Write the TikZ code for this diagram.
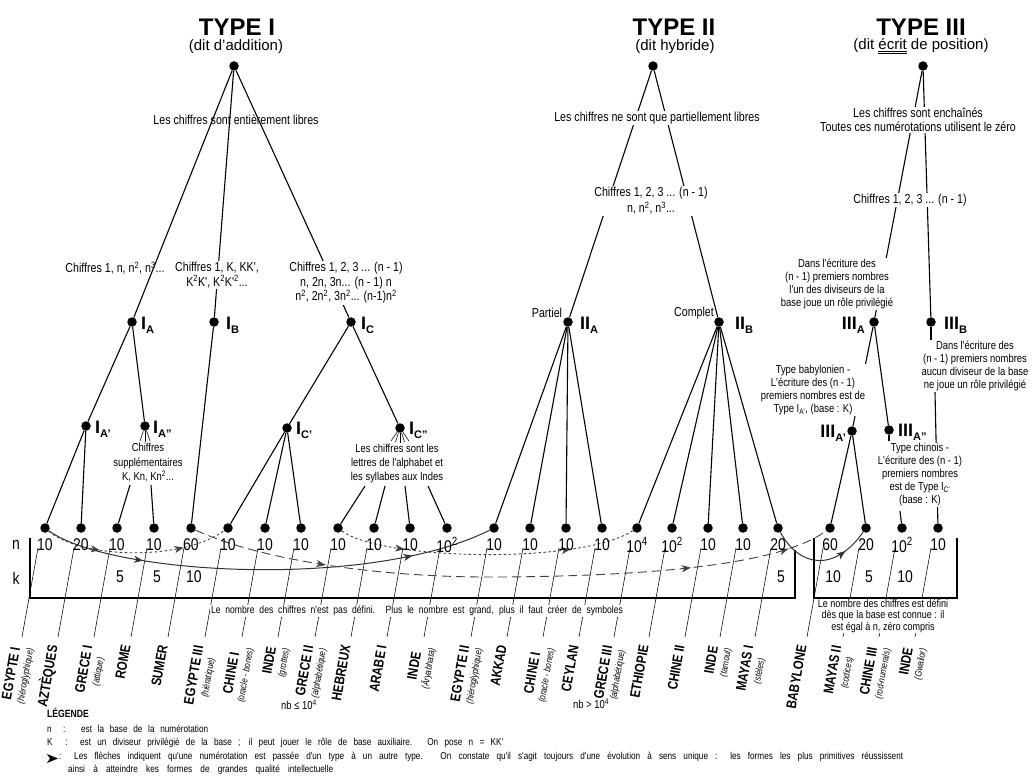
\documentclass[tikz,border=0pt]{standalone}
\usepackage{fontspec}
\setmainfont{Liberation Sans}
\newfontfamily\nar[FakeStretch=0.82]{Liberation Sans}
\usetikzlibrary{arrows.meta,decorations.markings}
\newcommand\fs[1]{\fontsize{#1}{#1}\selectfont}
\newcommand\nlab[2]{{\bfseries\fs{18}#1\raisebox{-4pt}{\fs{11}#2}}}
\newcommand\dul[1]{\leavevmode\vtop{\hbox{#1}\kern0.8pt\hrule height 0.6pt\kern1.2pt\hrule height 0.6pt}}
\tikzset{
 ar/.tip={Stealth[length=9pt,width=7pt,inset=2.5pt]},
 dot/.style={circle,fill=black,inner sep=0pt,minimum size=9.5pt},
 tl/.style={line width=1.1pt},
 thinl/.style={line width=0.55pt},
 tx/.style={font=\nar\fontsize{13}{14.5}\selectfont,align=center,inner sep=1pt},
 txw/.style={tx,fill=white},
 sm/.style={font=\nar\fontsize{11.5}{13}\selectfont,align=center,inner sep=1pt,fill=white},
 num/.style={font=\nar\fs{17},inner sep=0pt},
 blab/.style={font=\nar\bfseries\fontsize{14}{13}\selectfont,align=center,rotate=80,anchor=east,inner sep=0pt},
 mktwo/.style 2 args={postaction={decorate,decoration={markings,mark=at position #1 with {\arrow{ar}},mark=at position #2 with {\arrow{ar}}}}},
 mkone/.style={postaction={decorate,decoration={markings,mark=at position #1 with {\arrow{ar}}}}},
 sdash/.style={draw=black!75,line width=0.9pt,dash pattern=on 2.5pt off 2.5pt},
 ldash/.style={draw=black!75,line width=0.9pt,dash pattern=on 9pt off 5pt},
 solc/.style={draw=black!80,line width=1pt},
 legt/.style={font=\nar\fs{10},inner sep=0pt,anchor=base west},
}
\begin{document}
\begin{tikzpicture}[x=1pt,y=-1pt]
\path[use as bounding box,fill=white] (0,0) rectangle (1034,778);

% ---------- headings
\node[font=\bfseries\fs{24}] (h1) at (237,27) {TYPE I};
\node[font=\fs{15}] (s1) at (236,47) {(dit d'addition)};
\node[font=\bfseries\fs{24}] (h2) at (674,27) {TYPE II};
\node[font=\fs{15}] (s2) at (675,47) {(dit hybride)};
\node[font=\bfseries\fs{24}] (h3) at (921,27) {TYPE III};
\node[font=\fs{15}] (s3) at (921,46) {(dit \dul{écrit} de position)};

% ---------- leaves
\foreach \i/\x in {0/45,1/81,2/117,3/154,4/191,5/228,6/265,7/301,8/338,9/374,10/410,11/447,12/494,13/530,14/566,15/602,16/637,17/672,18/708,19/743,20/778,21/830,22/866,23/902,24/938}{
  \node[dot] (L\i) at (\x,528) {};
  \coordinate (sa\i) at (\x-7,548);
  \coordinate (sb\i) at (\x-23,637);
  \draw[thinl] (sa\i) -- (sb\i);
}

% ---------- tree dots
\node[dot] (R1) at (234,66) {};
\node[dot] (IA) at (132,322) {};
\node[dot] (IB) at (214,322) {};
\node[dot] (IC) at (351,322) {};
\node[dot] (IAp) at (86,426) {};
\node[dot] (IApp) at (145,426) {};
\node[dot] (ICp) at (287,428) {};
\node[dot] (ICpp) at (400,428) {};
\node[dot] (R2) at (653,66) {};
\node[dot] (IIA) at (568,322) {};
\node[dot] (IIB) at (719,322) {};
\node[dot] (R3) at (923,66) {};
\node[dot] (IIIA) at (874,322) {};
\node[dot] (IIIB) at (931,322) {};
\node[dot] (IIIAp) at (852,431) {};
\node[dot] (IIIApp) at (889,430) {};

% ---------- tree lines
\draw[tl] (R1) -- (IA);
\draw[tl] (R1) -- (IB);
\draw[tl] (R1) -- (IC);
\draw[tl] (IA) -- (IAp);
\draw[tl] (IA) -- (IApp);
\draw[tl] (IAp) -- (L0);
\draw[tl] (IAp) -- (L1);
\draw[tl] (IB) -- (L4);
\draw[tl] (IC) -- (ICp);
\draw[tl] (IC) -- (ICpp);
\foreach \j in {5,6,7}{\draw[tl] (ICp) -- (L\j);}
\coordinate (fa1) at (140,441); \coordinate (fa2) at (145,442); \coordinate (fa3) at (150,441);
\foreach \j in {1,2,3}{\draw[thinl] (IApp) -- (fa\j);}
\coordinate (fc1) at (391,441); \coordinate (fc2) at (395.5,442); \coordinate (fc3) at (400,443);
\coordinate (fc4) at (404.5,442); \coordinate (fc5) at (409,441);
\foreach \j in {1,...,5}{\draw[thinl] (ICpp) -- (fc\j);}
\coordinate (c1) at (130,485); \coordinate (c2) at (151,485);
\draw[tl] (c1) -- (L2);
\draw[tl] (c2) -- (L3);
\coordinate (c3) at (365,486); \coordinate (c4) at (385,486);
\coordinate (c5) at (405,486); \coordinate (c6) at (428,486);
\draw[tl] (c3) -- (L8);
\draw[tl] (c4) -- (L9);
\draw[tl] (c5) -- (L10);
\draw[tl] (c6) -- (L11);

\draw[tl] (R2) -- (IIA);
\draw[tl] (R2) -- (IIB);
\foreach \j in {12,13,14,15}{\draw[tl] (IIA) -- (L\j);}
\foreach \j in {16,17,18,19,20}{\draw[tl] (IIB) -- (L\j);}

\draw[tl] (R3) -- (IIIA);
\draw[tl] (R3) -- (IIIB);
\draw[tl] (IIIA) -- (IIIAp);
\draw[tl] (IIIA) -- (IIIApp);
\draw[tl] (IIIAp) -- (L21);
\draw[tl] (IIIAp) -- (L22);
\coordinate (c7) at (889,441); \coordinate (c8) at (900,511);
\draw[tl] (IIIApp) -- (c7);
\draw[tl] (c8) -- (L23);
\coordinate (c9) at (931,341); \coordinate (c10) at (935,392);
\draw[tl] (IIIB) -- (c9);
\draw[tl] (c10) -- (L24);

% ---------- table frame
\coordinate (f1) at (30,538); \coordinate (f2) at (30,598);
\coordinate (f3) at (795,598); \coordinate (f4) at (795,550);
\draw[tl] (f1) -- (f2) -- (f3) -- (f4);
\coordinate (g1) at (814,538); \coordinate (g2) at (814,598);
\coordinate (g3) at (957,598); \coordinate (g4) at (957,538);
\draw[tl] (g1) -- (g2) -- (g3) -- (g4);

% ---------- evolution arrows
\draw[solc,mktwo={0.22}{0.82}] (L0) .. controls (110,575) and (370,590) .. (L12);
\draw[sdash,mktwo={0.3}{0.76}] (L0) .. controls (80,558) and (180,562) .. (L5);
\draw[sdash,mktwo={0.22}{0.78}] (L8) .. controls (380,560) and (580,565) .. (L16);
\draw[ldash,mktwo={0.21}{0.78},mkone=0.935] (L4) .. controls (260,560) and (380,578) .. (500,577) .. controls (650,576) and (780,565) .. (L21);
\draw[solc,mkone=0.75] (L20) .. controls (800,568) and (835,572) .. (L22);

% ---------- tree texts
\node[tx] (t1) at (236,120) {Les chiffres sont entièrement libres};
\node[tx] (t2) at (115,268) {Chiffres 1, n, n\textsuperscript{2}, n\textsuperscript{3}...};
\node[txw] (t3) at (217,275) {Chiffres 1, K, KK',\\K\textsuperscript{2}K', K\textsuperscript{2}K'\textsuperscript{2}...};
\node[txw] (t4) at (346,283) {Chiffres 1, 2, 3 ... (n - 1)\\n, 2n, 3n... (n - 1) n\\n\textsuperscript{2}, 2n\textsuperscript{2}, 3n\textsuperscript{2}... (n-1)n\textsuperscript{2}};
\node[sm,font=\nar\fontsize{11.5}{14.5}\selectfont] (t5) at (148,463) {Chiffres\\supplémentaires\\K, Kn, Kn\textsuperscript{2}...};
\node[sm,font=\nar\fontsize{11.5}{14}\selectfont] (t6) at (397,464) {Les chiffres sont les\\lettres de l'alphabet et\\les syllabes aux Indes};
\node[txw] (t7) at (657,118) {Les chiffres ne sont que partiellement libres};
\node[txw,font=\nar\fontsize{13}{16}\selectfont] (t8) at (651,201) {Chiffres 1, 2, 3 ... (n - 1)\\n, n\textsuperscript{2}, n\textsuperscript{3}...};
\node[tx] (t9) at (547,313) {Partiel};
\node[tx] (t10) at (694,313) {Complet};
\node[txw,font=\nar\fontsize{13}{14}\selectfont] (t11) at (918,120) {Les chiffres sont enchaînés\\Toutes ces numérotations utilisent le zéro};
\node[txw] (t12) at (910,200) {Chiffres 1, 2, 3 ... (n - 1)};
\node[sm] (t13) at (837,284) {Dans l'écriture des\\(n - 1) premiers nombres\\l'un des diviseurs de la\\base joue un rôle privilégié};
\node[sm] (t14) at (975,366) {Dans l'écriture des\\(n - 1) premiers nombres\\aucun diviseur de la base\\ne joue un rôle privilégié};
\node[sm] (t15) at (813,390) {Type babylonien -\\L'écriture des (n - 1)\\premiers nombres est de\\Type I\textsubscript{A'}, (base : K)};
\node[sm] (t16) at (920,475) {Type chinois -\\L'écriture des (n - 1)\\premiers nombres\\est de Type I\textsubscript{C'}\\(base : K)};

% ---------- node labels
\node[anchor=base west,inner sep=0pt] (lIA) at (141,330) {\nlab{I}{A}};
\node[anchor=base west,inner sep=0pt] (lIB) at (226,330) {\nlab{I}{B}};
\node[anchor=base west,inner sep=0pt] (lIC) at (361,330) {\nlab{I}{C}};
\node[anchor=base west,inner sep=0pt] (lIAp) at (95,433) {\nlab{I}{A'}};
\node[anchor=base west,inner sep=0pt] (lIApp) at (153,433) {\nlab{I}{A"}};
\node[anchor=base west,inner sep=0pt] (lICp) at (296,434) {\nlab{I}{C'}};
\node[anchor=base west,inner sep=0pt] (lICpp) at (409,434) {\nlab{I}{C"}};
\node[anchor=base west,inner sep=0pt] (lIIA) at (580,330) {\nlab{II}{A}};
\node[anchor=base west,inner sep=0pt] (lIIB) at (735,330) {\nlab{II}{B}};
\node[anchor=base east,inner sep=0pt] (lIIIA) at (865,330) {\nlab{III}{A}};
\node[anchor=base west,inner sep=0pt] (lIIIB) at (944,330) {\nlab{III}{B}};
\node[anchor=base east,inner sep=0pt] (lIIIAp) at (846,437) {\nlab{III}{A'}};
\node[anchor=base west,inner sep=0pt] (lIIIApp) at (898,436) {\nlab{III}{A"}};

% ---------- n / k rows
\node[num] (rn) at (16,545) {n};
\node[num] (rk) at (16,578) {k};
\foreach \i/\x/\v in {0/45/10,1/81/20,2/117/10,3/154/10,4/191/60,5/228/10,6/265/10,7/301/10,8/338/10,9/374/10,10/410/10,11/447/{10\textsuperscript{2}},12/494/10,13/530/10,14/566/10,15/602/10,16/637/{10\textsuperscript{4}},17/672/{10\textsuperscript{2}},18/708/10,19/743/10,20/778/20,21/830/60,22/866/20,23/902/{10\textsuperscript{2}},24/938/10}{
  \node[num] (N\i) at (\x,545) {\v};
}
\foreach \i/\x/\v in {2/117/5,3/154/5,4/191/10,20/778/5,21/830/10,22/866/5,23/902/10}{
  \node[num] (K\i) at (\x+3,577) {\v};
}

% ---------- texts under the table
\node[font=\nar\fs{10.5},fill=white,inner sep=1.5pt] (tb1) at (417,611) {\makebox[412pt][s]{Le nombre des chiffres n'est pas défini. Plus le nombre est grand, plus il faut créer de symboles}};
\node[sm,font=\nar\fontsize{11}{11.3}\selectfont] (tb2) at (883,616) {Le nombre des chiffres est défini\\dès que la base est connue : il\\est égal à n, zéro compris};

% ---------- bottom labels
\foreach \i/\x/\m/\s in {0/45/{EGYPTE I}/{(hiéroglyphique)},2/117/{GRECE I}/{(attique)},5/228/{EGYPTE III}/{(hiératique)},6/265/{CHINE I}/{(oracle - bones)},7/301/INDE/{(grottes)},8/338/{GRECE II}/{(alphabétique)},11/447/INDE/{(Âryabhata)},12/494/{EGYPTE II}/{(hiéroglyphique)},14/566/{CHINE I}/{(oracle - bones)},16/637/{GRECE III}/{(alphabétique)},19/743/INDE/{(tamoul)},20/778/{MAYAS I}/{(stèles)},22/866/{MAYAS II}/{(codices)},23/902/{CHINE III}/{(rod-numerals)},24/938/INDE/{(Gwalior)}}{
  \node[blab] (B\i) at (\x-22,647) {\m\\{\fontsize{9.5}{9.5}\selectfont\mdseries\itshape\s}};
}
\foreach \i/\x/\m in {1/81/AZTÈQUES,3/154/ROME,4/191/SUMER,9/374/HEBREUX,10/410/{ARABE I},13/530/AKKAD,15/602/CEYLAN,17/672/ETHIOPIE,18/708/{CHINE II},21/830/BABYLONE}{
  \node[blab] (B\i) at (\x-28,645) {\m};
}
\node[font=\nar\fs{11.5}] (nb1) at (299,705) {nb ≤ 10\textsuperscript{4}};
\node[font=\nar\fs{11.5}] (nb2) at (591,704) {nb > 10\textsuperscript{4}};

% ---------- legend
\node[legt,font=\nar\bfseries\fs{10.5}] (lg) at (47,717) {LÉGENDE};
\node[legt] (lg1) at (47,732) {\makebox[161pt][s]{n \ : \ est la base de la numérotation}};
\node[legt] (lg2) at (47,745.5) {\makebox[456pt][s]{K \ : \ est un diviseur privilégié de la base ; il peut jouer le rôle de base auxiliaire. On pose n = KK'}};
\fill (47,754) -- (58,758.5) -- (47,763) -- (50,758.5) -- cycle;
\node[legt] (lg3) at (59,759) {\makebox[844pt][s]{: Les flèches indiquent qu'une numérotation est passée d'un type à un autre type. On constate qu'il s'agit toujours d'une évolution à sens unique : les formes les plus primitives réussissent}};
\node[legt] (lg4) at (68,772.5) {\makebox[265pt][s]{ainsi à atteindre kes formes de grandes qualité intellectuelle}};
\end{tikzpicture}
\end{document}
